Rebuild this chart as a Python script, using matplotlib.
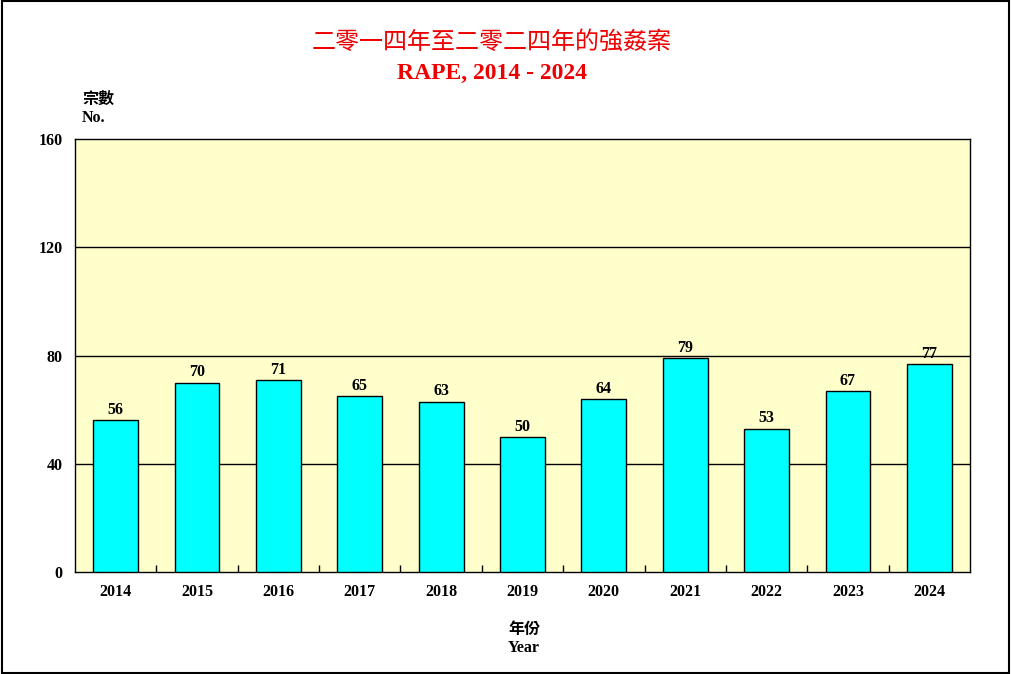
import matplotlib
matplotlib.use("Agg")
import matplotlib.pyplot as plt
from matplotlib.patches import Rectangle

years = ["2014", "2015", "2016", "2017", "2018", "2019", "2020", "2021", "2022", "2023", "2024"]
values = [56, 70, 71, 65, 63, 50, 64, 79, 53, 67, 77]
yticks = [0, 40, 80, 120, 160]

title_zh = "二零一四年至二零二四年的強姦案"
title_en = "RAPE, 2014 - 2024"
ylabel_zh = "宗數"
ylabel_en = "No."
xlabel_zh = "年份"
xlabel_en = "Year"

serif = ["Liberation Serif", "DejaVu Serif"]
cjk = ["Noto Sans CJK TC", "DejaVu Sans"]

fig = plt.figure(figsize=(10.11, 6.74), dpi=100)
ax = fig.add_axes([75/1011, 1-572/674, (970-75)/1011, (572-139)/674])
ax.set_facecolor("#FFFFCC")

x = list(range(len(years)))
ax.bar(x, values, width=0.55, color="#00FFFF", edgecolor="black", linewidth=1, zorder=3)
for xi, v in zip(x, values):
    ax.annotate(str(v), (xi, v), xytext=(0, 1.5), textcoords="offset points",
                ha="center", va="bottom", fontsize=11.5, fontweight="bold",
                family=serif, zorder=4)

ax.set_xlim(-0.5, len(years) - 0.5)
ax.set_ylim(0, 160)
ax.set_yticks(yticks)
ax.set_yticklabels([str(t) for t in yticks])
ax.set_xticks(x)
ax.set_xticklabels(years)
ax.set_xticks([i + 0.5 for i in range(len(years) - 1)], minor=True)
ax.tick_params(axis="x", which="major", length=0, pad=9)
ax.tick_params(axis="x", which="minor", direction="in", length=5, width=1)
ax.tick_params(axis="y", which="major", length=0, pad=9)
for lab in ax.get_xticklabels() + ax.get_yticklabels():
    lab.set_fontfamily(serif)
    lab.set_fontweight("bold")
    lab.set_fontsize(11.5)
for t in [40, 80, 120]:
    ax.axhline(t, color="black", linewidth=1, zorder=1)
for s in ax.spines.values():
    s.set_linewidth(1)
    s.set_color("black")

fig.text(492/1011, 1-42/674, title_zh, ha="center", va="center", fontsize=17.3,
         color="#EE0000", family=cjk)
fig.text(492/1011, 1-73/674, title_en, ha="center", va="center", fontsize=17,
         color="#EE0000", fontweight="bold", family=serif)
fig.text(82/1011, 1-99/674, ylabel_zh, ha="left", va="center", fontsize=11.5,
         fontweight="bold", family=cjk)
fig.text(82/1011, 1-118/674, ylabel_en, ha="left", va="center", fontsize=11.5,
         fontweight="bold", family=serif)
fig.text(524/1011, 1-629/674, xlabel_zh, ha="center", va="center", fontsize=11.5,
         fontweight="bold", family=cjk)
fig.text(524/1011, 1-648/674, xlabel_en, ha="center", va="center", fontsize=11.5,
         fontweight="bold", family=serif)

fig.patches.append(Rectangle((0.0015, 0.002), 0.997, 0.996, transform=fig.transFigure,
                             fill=False, edgecolor="black", linewidth=1.5))

fig.savefig("out.png", dpi=100)
